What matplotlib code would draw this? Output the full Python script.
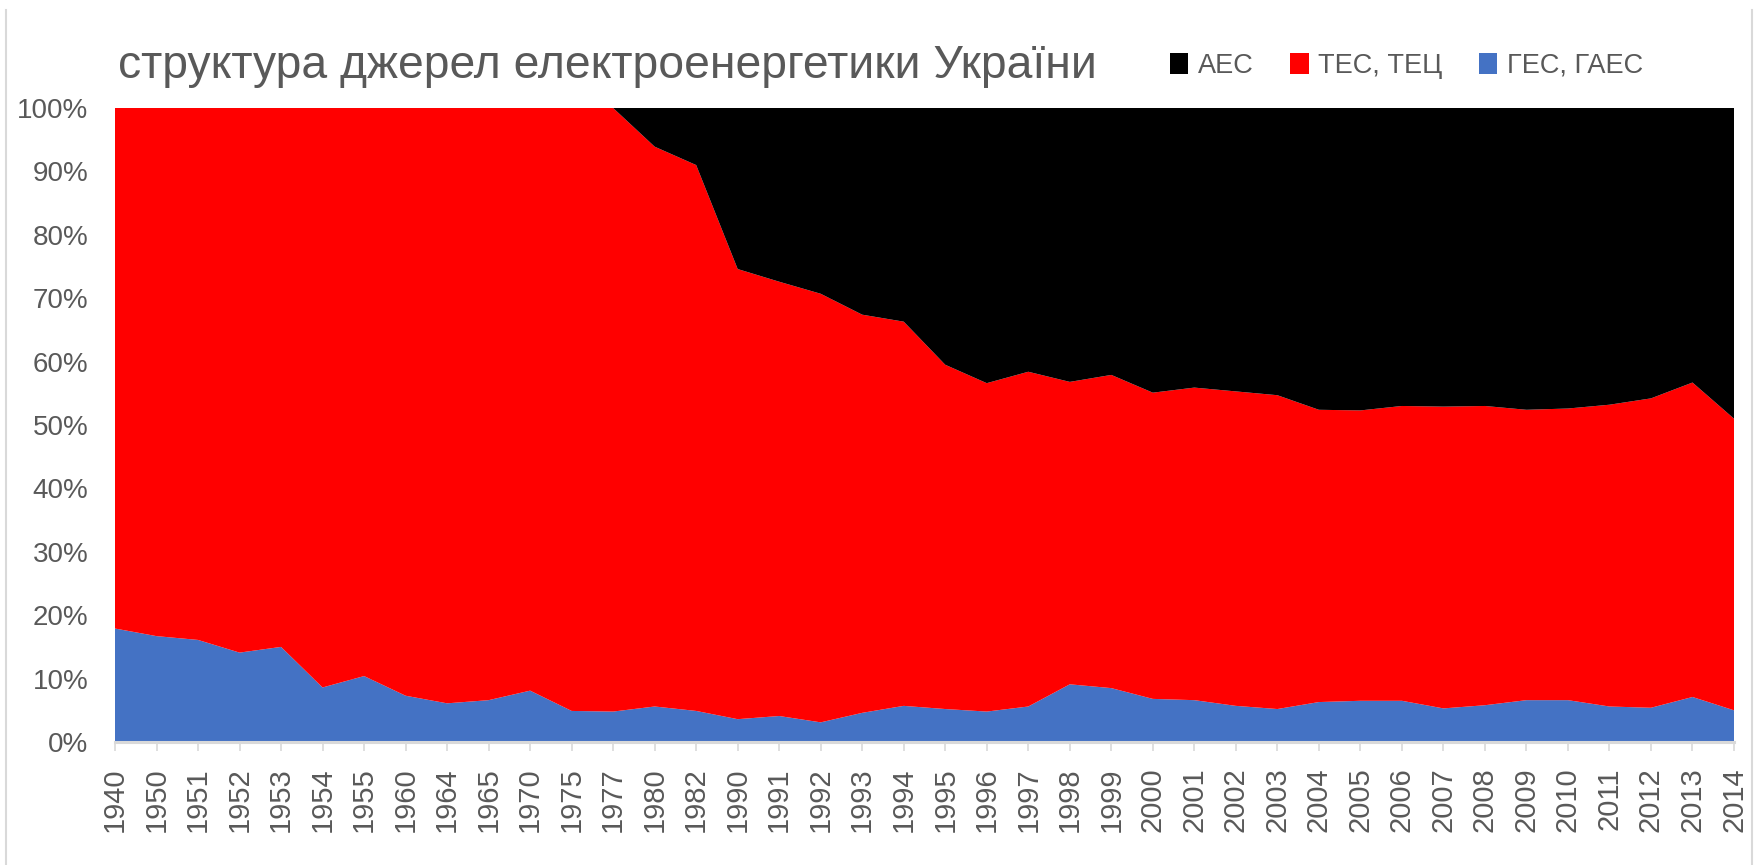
import matplotlib
matplotlib.use("Agg")
import matplotlib.pyplot as plt
from matplotlib.lines import Line2D
import numpy as np

# Data (shares, %)
years = ['1940', '1950', '1951', '1952', '1953', '1954', '1955', '1960', '1964',
         '1965', '1970', '1975', '1977', '1980', '1982', '1990', '1991', '1992',
         '1993', '1994', '1995', '1996', '1997', '1998', '1999', '2000', '2001',
         '2002', '2003', '2004', '2005', '2006', '2007', '2008', '2009', '2010',
         '2011', '2012', '2013', '2014']
hydro = [17.9, 16.7, 16.1, 14.1, 15.0, 8.6, 10.4, 7.3, 6.1, 6.6, 8.1, 4.9, 4.8,
         5.6, 4.9, 3.6, 4.1, 3.1, 4.6, 5.7, 5.2, 4.8, 5.6, 9.1, 8.5, 6.8, 6.6,
         5.7, 5.2, 6.3, 6.5, 6.5, 5.3, 5.8, 6.6, 6.6, 5.6, 5.4, 7.1, 5.0]
nuclear = [0, 0, 0, 0, 0, 0, 0, 0, 0, 0, 0, 0, 0,
           6.1, 9.0, 25.4, 27.4, 29.3, 32.6, 33.7, 40.5, 43.4, 41.6, 43.2, 42.1,
           44.9, 44.1, 44.7, 45.3, 47.6, 47.7, 47.0, 47.1, 47.0, 47.6, 47.4,
           46.8, 45.8, 43.3, 49.0]
thermal = [100 - h - n for h, n in zip(hydro, nuclear)]

labels = ['ГЕС, ГАЕС', 'ТЕС, ТЕЦ', 'АЕС']
colors = ['#4472C4', '#FF0000', '#000000']
grey = '#595959'

plt.rcParams['font.family'] = ['Liberation Sans', 'DejaVu Sans']

fig = plt.figure(figsize=(17.63, 8.65), dpi=100)
ax = fig.add_axes([115 / 1763, 1 - 742 / 865, (1734 - 115) / 1763, (742 - 108) / 865])

x = np.arange(len(years))
polys = ax.stackplot(x, hydro, thermal, nuclear, colors=colors, labels=labels,
                     zorder=2, linewidth=0)

ax.set_xlim(0, len(years) - 1)
ax.set_ylim(0, 100)
ax.set_yticks(range(0, 101, 10))
ax.set_yticklabels([f'{v}%' for v in range(0, 101, 10)])
ax.set_xticks(x)
ax.set_xticklabels(years, rotation=90)
ax.grid(axis='y', color='#d9d9d9', lw=1, zorder=0)
ax.set_axisbelow(True)

for s in ['top', 'right', 'left']:
    ax.spines[s].set_visible(False)
ax.spines['bottom'].set_color('#d9d9d9')
ax.spines['bottom'].set_linewidth(2.2)
ax.spines['bottom'].set_zorder(3)
ax.tick_params(axis='x', colors='#d9d9d9', length=6.5, width=1.2, pad=12,
               labelcolor=grey, labelsize=21)
ax.tick_params(axis='y', length=0, pad=19, labelcolor=grey, labelsize=20)

fig.text(118 / 1763, 1 - 78 / 865, 'структура джерел електроенергетики України',
         fontsize=33.3, color=grey, va='baseline')

handles = polys[::-1]
leg = fig.legend(handles, labels[::-1], loc='center left',
                 bbox_to_anchor=(1170 / 1763, 1 - 66 / 865), ncol=3,
                 frameon=False, borderpad=0, borderaxespad=0,
                 handlelength=0.68, handleheight=0.78,
                 handletextpad=0.35, columnspacing=1.35, fontsize=19.5)
for t in leg.get_texts():
    t.set_color(grey)

# chart border (left and right)
for xf in [6 / 1763, 1752 / 1763]:
    fig.add_artist(Line2D([xf, xf], [0, 1 - 10 / 865], color='#d9d9d9', lw=1.5))

fig.savefig('out.png', dpi=100)
